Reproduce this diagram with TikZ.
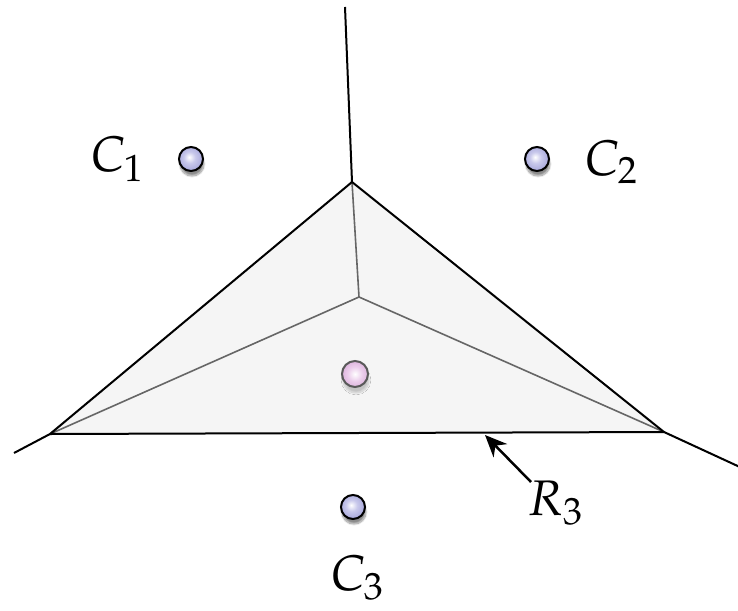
\documentclass[tikz,border=0pt]{standalone}
\usepackage{mathpazo}
\usetikzlibrary{shadows.blur,arrows.meta}
\definecolor{siterim}{RGB}{150,150,210}
\definecolor{sitemid}{RGB}{200,200,235}
\definecolor{pinkrim}{RGB}{210,160,210}
\definecolor{pinkmid}{RGB}{235,205,235}
\pgfdeclareradialshading{sitesh}{\pgfpoint{-4bp}{4bp}}{color(0bp)=(white); color(12bp)=(sitemid); color(35bp)=(siterim); color(50bp)=(siterim)}
\pgfdeclareradialshading{pinksh}{\pgfpoint{0bp}{0bp}}{color(0bp)=(white); color(14bp)=(pinkmid); color(35bp)=(pinkrim); color(50bp)=(pinkrim)}
\tikzset{
  edge/.style={line width=2pt,black},
  inner/.style={line width=1.6pt,draw=black!60},
  site/.style={circle,draw=black,line width=2pt,minimum size=24pt,inner sep=0pt,
    shading=sitesh,
    blur shadow={shadow xshift=1pt,shadow yshift=-5pt,shadow blur steps=12,shadow opacity=45}},
  center/.style={circle,draw=black!65,line width=2pt,minimum size=26pt,inner sep=0pt,
    shading=pinksh,
    blur shadow={shadow xshift=1pt,shadow yshift=-6pt,shadow blur steps=12,shadow opacity=20}},
  lab/.style={font=\fontsize{50}{60}\selectfont,inner sep=0pt}
}
\begin{document}
\begin{tikzpicture}[x=1pt,y=-1pt]
\useasboundingbox (0,0) rectangle (738,610);
\coordinate (T) at (352,182);
\coordinate (L) at (50,434);
\coordinate (R) at (664,432);
\coordinate (M) at (359,297);
\coordinate (Ttop) at (345,7);
\coordinate (Lend) at (14,453);
\coordinate (Rend) at (742,468);
\fill[black!4] (T) -- (L) -- (R) -- cycle;
\draw[inner] (T) -- (M) (L) -- (M) (R) -- (M);
\draw[edge,line join=round] (T) -- (L) -- (R) -- cycle;
\draw[edge] (T) -- (Ttop);
\draw[edge] (L) -- (Lend);
\draw[edge] (R) -- (Rend);
\node[site] (c1) at (191,159) {};
\node[site] (c2) at (537,159) {};
\node[site] (c3) at (353,507) {};
\node[center] (p) at (355,374) {};
\node[lab] (l1) at (117,159) {$C_1$};
\node[lab] (l2) at (611,162) {$C_2$};
\node[lab] (l3) at (357,578) {$C_3$};
\node[lab] (r3) at (555,503) {$R_3$};
\coordinate (tail) at (531,482);
\coordinate (tip) at (485,435);
\draw[line width=2.5pt,-{Stealth[length=22pt,width=19pt]}] (tail) -- (tip);
\end{tikzpicture}
\end{document}
